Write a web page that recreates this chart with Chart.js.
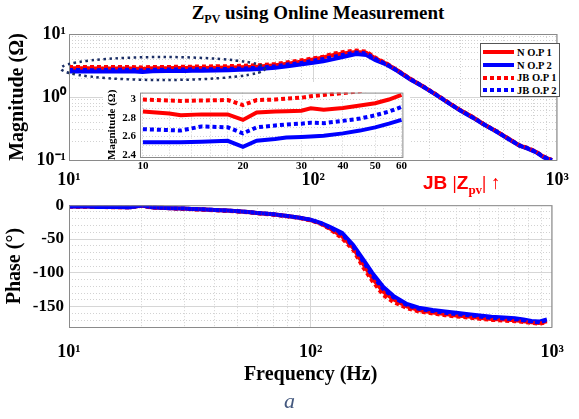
<!DOCTYPE html>
<html lang="en">
<head>
<meta charset="UTF-8">
<title>Zpv using Online Measurement</title>
<script src="https://cdn.jsdelivr.net/npm/chart.js"></script>
<style>
  body { margin: 0; background: #fff; }
  #wrap { position: relative; width: 579px; height: 419px; background: #fff; overflow: hidden;
          font-family: "Liberation Serif", "Times New Roman", serif; }
  canvas { position: absolute; }
  #title { position: absolute; left: 118px; width: 400px; top: 2px; text-align: center;
           font-weight: bold; font-size: 19px; line-height: 22px; color: #000; }
  #title sub { font-size: 12px; vertical-align: -4px; }
  #legend { position: absolute; left: 480px; top: 43px; width: 80px; height: 54px;
            border: 1px solid #555; background: #fff; padding-top: 2px; box-sizing: border-box; }
  .row { height: 12.7px; display: flex; align-items: center; font-weight: bold; font-size: 10.5px; }
  .swatch { width: 31px; height: 4px; margin-left: 2px; margin-right: 3px; }
  #jb { position: absolute; left: 423px; top: 172px; color: #f00; font-weight: bold; font-size: 19px; white-space: nowrap; }
  #jb .sans { font-family: "Liberation Sans", Arial, sans-serif; }
  #jb sub { font-size: 13px; vertical-align: -5px; }
  #caption { position: absolute; left: 284px; top: 388px; font-style: italic; font-size: 22px; color: #43587e; }
</style>
</head>
<body>
<div id="wrap">
  <div id="title">Z<sub>PV</sub> using Online Measurement</div>
  <canvas id="magChart" style="left:0;top:0" width="579" height="190"></canvas>
  <canvas id="insetChart" style="left:103px;top:82px" width="307" height="92"></canvas>
  <div id="legend"></div>
  <div id="jb"><span class="sans">JB </span>|<span class="sans">Z</span><sub>pv</sub>| ↑</div>
  <canvas id="phaseChart" style="left:0;top:190px" width="579" height="200"></canvas>
  <div id="caption">a</div>
</div>
<script>
// frequency points (Hz)
const freq = [10, 12, 13, 15, 18, 20, 22, 25, 27, 30, 32, 35, 40, 45, 50, 55, 60,
  70, 80, 90, 100, 110, 120, 135, 150, 165, 180,
  200, 220, 250, 280, 320, 360, 400, 450, 500, 560,
  630, 700, 760, 820, 880, 950];

// magnitude (ohm)
const magN1 = [2.87, 2.85, 2.83, 2.84, 2.84, 2.78, 2.86, 2.87, 2.875, 2.88, 2.905, 2.89, 2.91, 2.935, 2.96, 3.0, 3.05,
  3.2, 3.4, 3.65, 3.95, 4.25, 4.6, 4.95, 5.2, 5.05, 4.1,
  3.35, 2.68, 1.93, 1.5, 1.08, 0.8, 0.62, 0.48, 0.37, 0.29,
  0.22, 0.17, 0.152, 0.134, 0.112, 0.1];
const magN2 = [2.54, 2.54, 2.54, 2.545, 2.555, 2.49, 2.555, 2.575, 2.59, 2.595, 2.6, 2.61, 2.635, 2.665, 2.7, 2.74, 2.78,
  2.9, 3.1, 3.3, 3.5, 3.7, 3.95, 4.4, 4.8, 4.65, 3.85,
  3.25, 2.62, 1.9, 1.48, 1.07, 0.79, 0.61, 0.47, 0.365, 0.285,
  0.215, 0.168, 0.15, 0.132, 0.11, 0.098];
const magJB1 = [3.0, 2.99, 2.985, 2.99, 2.995, 2.94, 2.995, 3.0, 3.01, 3.02, 3.035, 3.05, 3.07, 3.09, 3.12, 3.16, 3.2,
  3.35, 3.6, 3.85, 4.1, 4.35, 4.85, 5.25, 5.45, 5.25, 4.2,
  3.4, 2.7, 1.95, 1.5, 1.09, 0.81, 0.62, 0.48, 0.37, 0.29,
  0.22, 0.17, 0.155, 0.135, 0.113, 0.1];
const magJB2 = [2.68, 2.67, 2.665, 2.71, 2.7, 2.635, 2.7, 2.72, 2.73, 2.74, 2.75, 2.745, 2.77, 2.795, 2.83, 2.87, 2.92,
  3.08, 3.3, 3.5, 3.75, 4.0, 4.3, 4.75, 5.1, 4.9, 4.0,
  3.3, 2.66, 1.92, 1.49, 1.08, 0.8, 0.615, 0.475, 0.37, 0.288,
  0.218, 0.17, 0.153, 0.134, 0.112, 0.1];

// phase (deg)
const phN1 = [-2, -2, -2.5, -2.5, -3, -0.5, -3, -4, -4.5, -5, -5.5, -6, -7, -8, -9, -10, -11.5,
  -13.5, -16, -18.5, -22, -27, -34, -46, -63, -87, -108,
  -128, -139, -149.5, -155, -158.5, -161, -163, -164.5, -166.5, -168,
  -169, -170, -171.5, -173, -174, -171.5];
const phN2 = [-2, -2, -2.5, -2.5, -3, -0.5, -3, -4, -4.5, -5, -5.5, -6, -7, -8, -9, -10, -11.5,
  -13.5, -16, -18.5, -21.5, -26, -32, -41, -59, -80, -100,
  -121, -134, -146, -151.5, -155, -157, -159, -161, -163, -165,
  -166, -167, -169, -171, -172, -169];
const phJB1 = [-2, -2.5, -2.5, -3, -3, -1, -3.5, -4, -5, -5.5, -6, -6.5, -7.5, -8.5, -9.5, -10.5, -12,
  -14, -16.5, -19, -22.5, -27.5, -35, -49, -66, -92, -112,
  -133, -143, -152, -157, -160, -162.5, -164.5, -166, -168, -169.5,
  -170.5, -171.5, -172.5, -174, -175, -173];
const phJB2 = [-2, -2, -2.5, -2.5, -3, -0.5, -3, -4, -4.5, -5, -5.5, -6, -7, -8, -9, -10, -11.5,
  -13.5, -16, -18.5, -21.5, -26.5, -33, -43, -61, -83, -104,
  -124, -136, -147.5, -153, -156.5, -159, -161, -162.5, -164.5, -166.5,
  -167.5, -168.5, -170, -172, -173, -170];

// ticks
const freqTicks = [10, 20, 30, 40, 50, 60, 70, 80, 90, 100, 200, 300, 400, 500, 600, 700, 800, 900, 1000];
const magTicks = [0.1, 0.2, 0.3, 0.4, 0.5, 0.6, 0.7, 0.8, 0.9, 1, 2, 3, 4, 5, 6, 7, 8, 9, 10];
const insetFreqTicks = [10, 12, 14, 16, 18, 20, 30, 40, 50, 60];
const insetFreqLabels = [10, 20, 30, 40, 50, 60];
const insetMagTicks = [2.4, 2.5, 2.6, 2.7, 2.8, 2.9, 3.0];
const decadeLabels = { 0.1: '10⁻¹', 1: '10⁰', 10: '10¹', 100: '10²', 1000: '10³' };

const series = [
  { label: 'N O.P 1', mag: magN1, ph: phN1, color: '#ff0000', dotted: false, order: 4 },
  { label: 'N O.P 2', mag: magN2, ph: phN2, color: '#0000ff', dotted: false, order: 3 },
  { label: 'JB O.P 1', mag: magJB1, ph: phJB1, color: '#ff0000', dotted: true, order: 2 },
  { label: 'JB O.P 2', mag: magJB2, ph: phJB2, color: '#0000ff', dotted: true, order: 1 }
];

const serif = '"Liberation Serif", "Times New Roman", serif';
const isDecade = v => Math.abs(Math.log10(v) - Math.round(Math.log10(v))) < 1e-9;

function makeSets(key, maxF) {
  return series.map(s => ({
    label: s.label,
    data: freq.map((f, i) => ({ x: f, y: s[key][i] })).filter(p => !maxF || p.x <= maxF),
    borderColor: s.color,
    backgroundColor: s.color,
    borderWidth: 4,
    borderDash: s.dotted ? [4, 3] : [],
    pointRadius: 0,
    tension: 0,
    order: s.order
  }));
}

// box around the plot area
const frame = {
  id: 'frame',
  afterDraw(chart) {
    const a = chart.chartArea, ctx = chart.ctx;
    ctx.save();
    ctx.strokeStyle = '#8a8a8a';
    ctx.lineWidth = 1;
    ctx.strokeRect(a.left + 0.5, a.top + 0.5, a.right - a.left - 1, a.bottom - a.top);
    ctx.restore();
  }
};

// dotted ellipse marking the low frequency band
const ellipse = {
  id: 'ellipse',
  afterDraw(chart) {
    const ctx = chart.ctx;
    const cx = chart.scales.x.getPixelForValue(24.3);
    const cy = chart.scales.y.getPixelForValue(2.83);
    ctx.save();
    ctx.strokeStyle = '#1c2f66';
    ctx.lineWidth = 2.5;
    ctx.setLineDash([2.5, 3.5]);
    ctx.beginPath();
    ctx.ellipse(cx, cy, 102, 11.5, 0, 0, Math.PI * 2);
    ctx.stroke();
    ctx.restore();
  }
};

const whiteBack = {
  id: 'whiteBack',
  beforeDraw(chart) {
    const ctx = chart.ctx;
    ctx.save();
    ctx.fillStyle = '#fff';
    ctx.fillRect(0, 0, chart.width, chart.chartArea.bottom + 1);
    ctx.restore();
  }
};

const baseOpts = {
  responsive: false,
  animation: false,
  plugins: { legend: { display: false }, tooltip: { enabled: false } }
};

function gridOpts(major) {
  return {
    grid: {
      drawTicks: false,
      lineWidth: 1,
      color: ctx => (ctx.tick && major(ctx.tick.value)) ? '#d6d6d6' : '#d2d2d2'
    },
    border: {
      display: false,
      dash: ctx => (ctx.tick && major(ctx.tick.value)) ? [] : [1, 2]
    }
  };
}

// magnitude
new Chart(document.getElementById('magChart'), {
  type: 'line',
  data: { datasets: makeSets('mag') },
  options: Object.assign({}, baseOpts, {
    layout: { padding: { top: 34, right: 12, left: 0, bottom: 0 } },
    scales: {
      x: Object.assign({
        type: 'logarithmic', min: 10, max: 1000,
        afterBuildTicks: s => { s.ticks = freqTicks.map(v => ({ value: v })); },
        afterFit: s => { s.height = 30; },
        ticks: { autoSkip: false, maxRotation: 0, padding: 10, color: '#000',
                 font: { family: serif, size: 18, weight: 'bold' },
                 callback: v => decadeLabels[v] || '' }
      }, gridOpts(isDecade)),
      y: Object.assign({
        type: 'logarithmic', min: 0.1, max: 10,
        afterBuildTicks: s => { s.ticks = magTicks.map(v => ({ value: v })); },
        afterFit: s => { s.width = 69; },
        ticks: { autoSkip: false, padding: 3, color: '#000',
                 font: { family: serif, size: 18, weight: 'bold' },
                 callback: v => decadeLabels[v] || '' },
        title: { display: true, text: 'Magnitude (Ω)', color: '#000', padding: { top: 6, bottom: 0 },
                 font: { family: serif, size: 20, weight: 'bold' } }
      }, gridOpts(isDecade))
    }
  }),
  plugins: [frame, ellipse]
});

// zoomed inset 10-60 Hz
new Chart(document.getElementById('insetChart'), {
  type: 'line',
  data: { datasets: makeSets('mag', 60) },
  options: Object.assign({}, baseOpts, {
    layout: { padding: { top: 1, right: 3, left: 0, bottom: 0 } },
    scales: {
      x: Object.assign({
        type: 'logarithmic', min: 9.8, max: 60.8,
        afterBuildTicks: s => { s.ticks = insetFreqTicks.map(v => ({ value: v })); },
        afterFit: s => { s.height = 17; },
        ticks: { autoSkip: false, maxRotation: 0, padding: 3, color: '#000',
                 font: { family: serif, size: 11, weight: 'bold' },
                 callback: v => insetFreqLabels.includes(v) ? String(v) : '' }
      }, gridOpts(() => false)),
      y: Object.assign({
        type: 'linear', min: 2.38, max: 3.075,
        afterBuildTicks: s => { s.ticks = insetMagTicks.map(v => ({ value: v })); },
        afterFit: s => { s.width = 37; },
        ticks: { autoSkip: false, padding: 4, color: '#000',
                 font: { family: serif, size: 11, weight: 'bold' },
                 callback: v => Math.round(v * 10) % 2 === 0 ? String(+v.toFixed(1)) : '' },
        title: { display: true, text: 'Magnitude (Ω)', color: '#000', padding: { top: 3, bottom: 0 },
                 font: { family: serif, size: 11, weight: 'bold' } }
      }, gridOpts(() => false))
    }
  }),
  plugins: [whiteBack, frame]
});

// phase
new Chart(document.getElementById('phaseChart'), {
  type: 'line',
  data: { datasets: makeSets('ph') },
  options: Object.assign({}, baseOpts, {
    layout: { padding: { top: 13, right: 12, left: 0, bottom: 0 } },
    scales: {
      x: Object.assign({
        type: 'logarithmic', min: 10, max: 1000,
        afterBuildTicks: s => { s.ticks = freqTicks.map(v => ({ value: v })); },
        afterFit: s => { s.height = 63; },
        ticks: { autoSkip: false, maxRotation: 0, padding: 15, color: '#000',
                 font: { family: serif, size: 18, weight: 'bold' },
                 callback: v => decadeLabels[v] || '' },
        title: { display: true, text: 'Frequency (Hz)', color: '#000', padding: { top: 0, bottom: 3 },
                 font: { family: serif, size: 20, weight: 'bold' } }
      }, gridOpts(isDecade)),
      y: Object.assign({
        type: 'linear', min: -180, max: 0,
        ticks: { stepSize: 10, autoSkip: false, padding: 5, color: '#000',
                 font: { family: serif, size: 17, weight: 'bold' },
                 callback: v => v % 50 === 0 ? String(v) : '' },
        afterFit: s => { s.width = 69; },
        title: { display: true, text: 'Phase (°)', color: '#000', padding: { top: 3, bottom: 0 },
                 font: { family: serif, size: 20, weight: 'bold' } }
      }, gridOpts(v => v % 50 === 0))
    }
  }),
  plugins: [frame]
});

// legend
const legend = document.getElementById('legend');
series.forEach(s => {
  const row = document.createElement('div');
  row.className = 'row';
  const sw = document.createElement('span');
  sw.className = 'swatch';
  sw.style.background = s.dotted
    ? 'repeating-linear-gradient(90deg, ' + s.color + ' 0 4px, transparent 4px 7px)'
    : s.color;
  row.appendChild(sw);
  row.appendChild(document.createTextNode(s.label));
  legend.appendChild(row);
});
</script>
</body>
</html>
